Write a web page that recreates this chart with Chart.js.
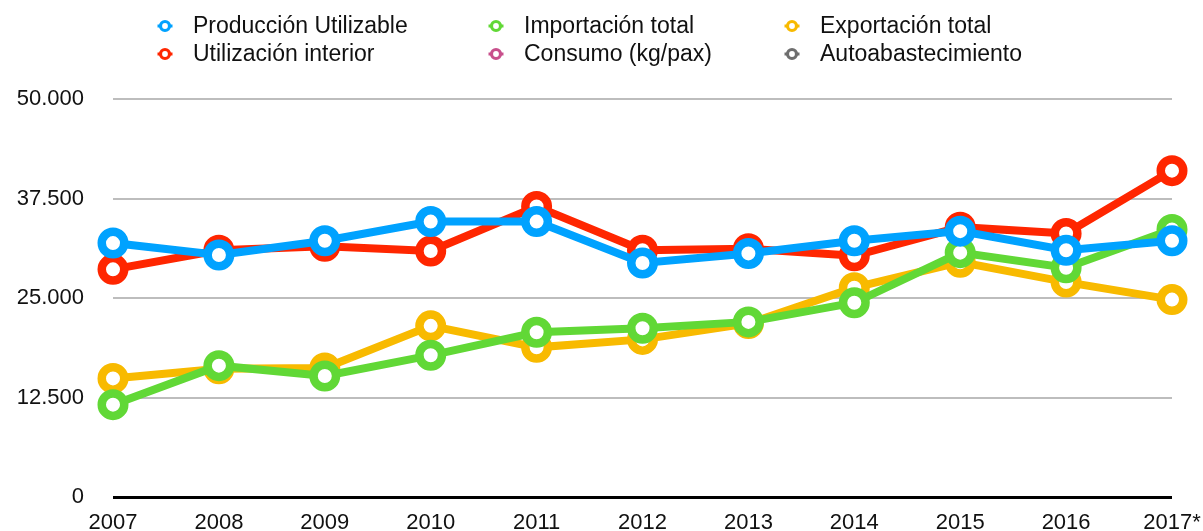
<!DOCTYPE html>
<html lang="es">
<head>
  <meta charset="UTF-8">
  <title>Producción, utilización, importación y exportación</title>
  <style>
    html, body {
      margin: 0;
      padding: 0;
      background: #fff;
    }
    #wrap {
      width: 1203px;
      height: 531px;
    }
  </style>
</head>
<body>
  <div id="wrap"><canvas id="chart" width="1203" height="531"></canvas></div>

  <script src="https://cdn.jsdelivr.net/npm/chart.js"></script>
  <script>
    const years = ["2007", "2008", "2009", "2010", "2011", "2012", "2013", "2014", "2015", "2016", "2017*"];

    const produccionUtilizable = [31900, 30400, 32200, 34600, 34600, 29400, 30600, 32200, 33400, 31000, 32200];
    const utilizacionInterior  = [28600, 31000, 31500, 30900, 36500, 31000, 31200, 30300, 33900, 33100, 41000];
    const importacionTotal     = [11600, 16500, 15200, 17800, 20700, 21200, 22000, 24400, 30700, 28800, 33600];
    const exportacionTotal     = [14900, 16100, 16200, 21500, 18800, 19800, 21800, 26300, 29500, 27000, 24800];
    // these two only show up in the legend, no points on this axis
    const consumoKgPax = [];
    const autoabastecimiento = [];

    const yMax = 50000;
    const yStep = 12500;

    const FONT = "'Liberation Sans', Arial, Helvetica, sans-serif";

    function fmt(v) {
      return String(v).replace(/\B(?=(\d{3})+(?!\d))/g, ".");
    }

    function lineSet(label, data, color, order) {
      return {
        label: label,
        data: data,
        borderColor: color,
        backgroundColor: "#fff",
        borderWidth: 8,
        pointRadius: 11.25,
        pointHoverRadius: 11.25,
        pointBorderWidth: 8.5,
        pointBackgroundColor: "#fff",
        pointBorderColor: color,
        fill: false,
        tension: 0,
        order: order
      };
    }

    // legend in three columns of two rows, like the original
    const gridLegend = {
      id: "gridLegend",
      afterDraw(chart) {
        const ctx = chart.ctx;
        const cols = [165, 496, 792];
        const rows = [26, 54];
        ctx.save();
        ctx.font = "23px " + FONT;
        ctx.textBaseline = "middle";
        ctx.textAlign = "left";
        chart.data.datasets.forEach((ds, i) => {
          const x = cols[Math.floor(i / 2)];
          const y = rows[i % 2];
          ctx.strokeStyle = ds.borderColor;
          ctx.lineWidth = 3;
          ctx.beginPath();
          ctx.moveTo(x - 7.5, y);
          ctx.lineTo(x + 7.5, y);
          ctx.stroke();
          ctx.beginPath();
          ctx.arc(x, y, 4.5, 0, Math.PI * 2);
          ctx.fillStyle = "#fff";
          ctx.fill();
          ctx.lineWidth = 3.2;
          ctx.stroke();
          ctx.fillStyle = "#111";
          ctx.fillText(ds.label, x + 28, y + 1);
        });
        ctx.restore();
      }
    };

    new Chart(document.getElementById("chart"), {
      type: "line",
      data: {
        labels: years,
        datasets: [
          lineSet("Producción Utilizable", produccionUtilizable, "#00A2FF", 0),
          lineSet("Utilización interior", utilizacionInterior, "#FF2600", 2),
          lineSet("Importación total", importacionTotal, "#61D836", 1),
          lineSet("Consumo (kg/pax)", consumoKgPax, "#C8508C", 4),
          lineSet("Exportación total", exportacionTotal, "#F8BA00", 3),
          lineSet("Autoabastecimiento", autoabastecimiento, "#6E6E6E", 5)
        ]
      },
      options: {
        responsive: false,
        animation: false,
        layout: {
          padding: { top: 99, right: 31, left: 0, bottom: 0 }
        },
        plugins: {
          legend: { display: false },
          tooltip: { enabled: false }
        },
        scales: {
          x: {
            offset: false,
            grid: { display: false },
            border: { display: false },
            ticks: {
              color: "#111",
              font: { family: FONT, size: 22 },
              padding: 5,
              maxRotation: 0,
              autoSkip: false
            },
            afterFit(scale) {
              scale.height = 34;
              scale.paddingLeft = 0;
              scale.paddingRight = 0;
            }
          },
          y: {
            min: 0,
            max: yMax,
            border: { display: false },
            grid: {
              drawTicks: false,
              color: ctx => ctx.tick.value === 0 ? "#000" : "#bdbdbd",
              lineWidth: ctx => ctx.tick.value === 0 ? 3 : 2
            },
            ticks: {
              stepSize: yStep,
              color: "#111",
              font: { family: FONT, size: 22 },
              padding: 29,
              callback: v => fmt(v)
            },
            afterFit(scale) {
              scale.width = 113;
              scale.paddingTop = 0;
              scale.paddingBottom = 0;
            }
          }
        }
      },
      plugins: [gridLegend]
    });
  </script>
</body>
</html>
